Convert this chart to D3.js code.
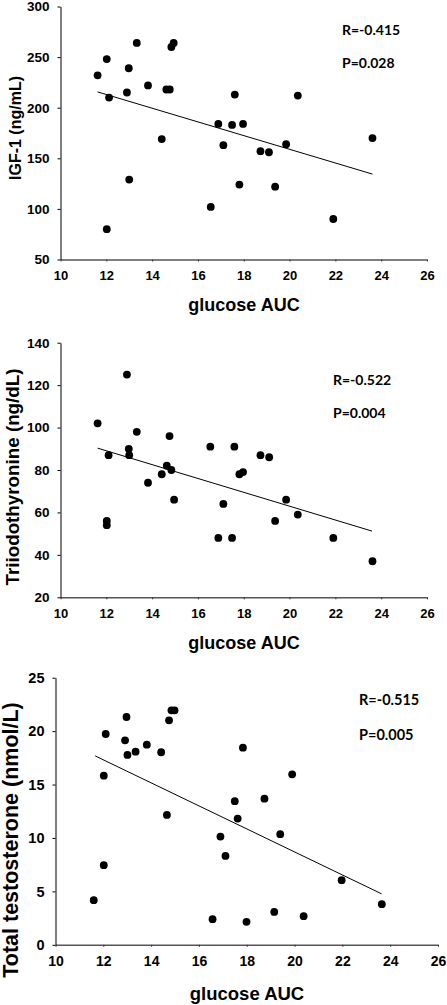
<!DOCTYPE html>
<html>
<head>
<meta charset="utf-8">
<script src="https://cdn.jsdelivr.net/npm/d3@7"></script>
<style>
  body { margin: 0; background: #fff; }
  svg { display: block; }
  .tick text { font-family: "Liberation Sans", Arial, sans-serif; font-weight: bold; fill: #000; }
</style>
</head>
<body>
<svg id="chart" width="447" height="1005"></svg>
<script>
// ---------- DATA ----------
const xTicks = [10, 12, 14, 16, 18, 20, 22, 24, 26];

// Panel 1: IGF-1
const igfGlucose = [11.62, 12.02, 12.12, 13.33, 12.98, 12.9, 13.82, 14.62, 14.77, 14.84, 14.94, 14.42, 16.89, 17.49, 17.97, 17.61, 17.11, 19.85, 20.36, 23.62, 18.73, 19.1, 13.0, 12.02, 16.56, 17.81, 19.37, 21.91];
const igfValues  = [232, 248, 210, 264, 239, 215, 222, 218, 218, 260, 264, 169, 184, 183, 184, 213, 163, 164, 212, 170, 157, 156, 129, 80, 102, 124, 122, 90];
const igfTicks = [50, 100, 150, 200, 250, 300];
const igfFitX = [11.62, 23.62];
const igfFitY = [215.6, 134.4];
const igfStats = ["R=-0.415", "P=0.028"];

// Panel 2: Triiodothyronine
const t3Glucose = [11.62, 12.1, 12.9, 12.98, 13.0, 13.33, 13.82, 14.42, 14.64, 14.76, 14.84, 16.54, 17.59, 17.81, 17.97, 18.73, 19.11, 14.96, 12.02, 12.02, 16.89, 17.11, 17.49, 19.37, 19.85, 20.36, 21.91, 23.62];
const t3Values  = [102, 87, 125, 90, 87, 98, 74, 78, 82, 96, 80, 91, 91, 78, 79, 87, 86, 66, 56, 54, 48, 64, 48, 56, 66, 59, 48, 37];
const t3Ticks = [20, 40, 60, 80, 100, 120, 140];
const t3FitX = [11.62, 23.6];
const t3FitY = [90.3, 51.2];
const t3Stats = ["R=-0.522", "P=0.004"];

// Panel 3: Total testosterone
const ttGlucose = [12.1, 12.97, 12.91, 13.01, 13.35, 13.82, 14.42, 14.75, 14.85, 14.98, 12.02, 14.66, 17.84, 17.5, 17.62, 18.74, 19.9, 12.02, 11.6, 16.9, 17.11, 16.57, 17.99, 19.15, 20.38, 19.4, 21.97, 23.65];
const ttValues  = [19.73, 21.32, 19.14, 17.77, 18.08, 18.73, 18.02, 21.01, 21.95, 21.95, 15.83, 12.16, 18.45, 13.44, 11.81, 13.68, 15.96, 7.45, 4.18, 10.13, 8.32, 2.4, 2.15, 3.08, 2.68, 10.35, 6.05, 3.8];
const ttTicks = [0, 5, 10, 15, 20, 25];
const ttFitX = [11.66, 23.64];
const ttFitY = [17.68, 4.77];
const ttStats = ["R=-0.515", "P=0.005"];

const xLabel = "glucose AUC";
const yLabels = ["IGF-1 (ng/mL)", "Triiodothyronine (ng/dL)", "Total testosterone (nmol/L)"];

// ---------- LAYOUT ----------
const panels = [
  { xs: igfGlucose, ys: igfValues, yTicks: igfTicks, fitX: igfFitX, fitY: igfFitY, stats: igfStats, ylab: yLabels[0],
    x0: 60.5, x1: 427, yTop: 6.5, yBot: 259.5, yDom: [50, 300],
    tickFs: 13, xlabFs: 18, ylabFs: 16, ylabX: 15, ylabY: 128, xlabY: 305, xlabX: 244,
    statX: 342, statY: [29, 62], statFs: 14 },
  { xs: t3Glucose, ys: t3Values, yTicks: t3Ticks, fitX: t3FitX, fitY: t3FitY, stats: t3Stats, ylab: yLabels[1],
    x0: 60.5, x1: 427, yTop: 342.7, yBot: 597.3, yDom: [20, 140],
    tickFs: 13, xlabFs: 18, ylabFs: 18.8, ylabX: 12, ylabY: 477, xlabY: 643, xlabX: 244,
    statX: 333, statY: [379, 412], statFs: 14 },
  { xs: ttGlucose, ys: ttValues, yTicks: ttTicks, fitX: ttFitX, fitY: ttFitY, stats: ttStats, ylab: yLabels[2],
    x0: 55.5, x1: 438, yTop: 677.7, yBot: 944.8, yDom: [0, 25],
    tickFs: 14, xlabFs: 18.5, ylabFs: 21.5, ylabX: 11, ylabY: 840, xlabY: 993, xlabX: 247,
    statX: 359, statY: [699, 734], statFs: 14.5 }
];

const svg = d3.select("#chart");

panels.forEach(p => {
  const x = d3.scaleLinear().domain([10, 26]).range([p.x0, p.x1]);
  const y = d3.scaleLinear().domain(p.yDom).range([p.yBot, p.yTop]);
  const g = svg.append("g");

  // axes
  const xAxis = d3.axisBottom(x).tickValues(xTicks).tickSize(2).tickPadding(9).tickSizeOuter(0);
  const gx = g.append("g").attr("transform", `translate(0,${p.yBot})`).call(xAxis);
  gx.selectAll("text").style("font-size", p.tickFs + "px");
  gx.select(".domain").attr("stroke", "#555").attr("stroke-width", 1.4);
  gx.selectAll(".tick line").attr("stroke", "#333");

  const yAxis = d3.axisLeft(y).tickValues(p.yTicks).tickSize(3).tickPadding(8).tickSizeOuter(0);
  const gy = g.append("g").attr("transform", `translate(${p.x0},0)`).call(yAxis);
  gy.selectAll("text").style("font-size", (p.tickFs + 0.5) + "px");
  gy.select(".domain").attr("stroke", "#000").attr("stroke-width", 1);
  gy.selectAll(".tick line").attr("stroke", "#000");

  // fit line
  const line = d3.line().x(d => x(d[0])).y(d => y(d[1]));
  g.append("path")
    .datum(p.fitX.map((v, i) => [v, p.fitY[i]]))
    .attr("d", line)
    .attr("fill", "none")
    .attr("stroke", "#000")
    .attr("stroke-width", 1);

  // points
  g.selectAll("circle.pt")
    .data(p.xs.map((v, i) => [v, p.ys[i]]))
    .join("circle")
    .attr("class", "pt")
    .attr("cx", d => x(d[0]))
    .attr("cy", d => y(d[1]))
    .attr("r", 3.9)
    .attr("fill", "#000");

  // labels
  g.append("text")
    .attr("x", p.xlabX).attr("y", p.xlabY)
    .attr("text-anchor", "middle").attr("dominant-baseline", "central")
    .style("font-family", "'Liberation Sans', Arial, sans-serif")
    .style("font-weight", "bold").style("font-size", p.xlabFs + "px")
    .text(xLabel);

  g.append("text")
    .attr("transform", `translate(${p.ylabX},${p.ylabY}) rotate(-90)`)
    .attr("text-anchor", "middle").attr("dominant-baseline", "central")
    .style("font-family", "'Liberation Sans', Arial, sans-serif")
    .style("font-weight", "bold").style("font-size", p.ylabFs + "px")
    .text(p.ylab);

  p.stats.forEach((s, i) => {
    g.append("text")
      .attr("x", p.statX).attr("y", p.statY[i])
      .attr("dominant-baseline", "central")
      .style("font-family", "Lato, 'Open Sans', sans-serif")
      .style("font-weight", "bold").style("font-size", p.statFs + "px")
      .text(s);
  });
});
</script>
</body>
</html>
